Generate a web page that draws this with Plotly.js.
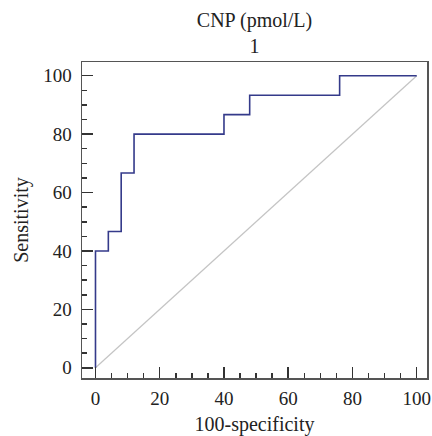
<!DOCTYPE html>
<html>
<head>
<meta charset="utf-8">
<script src="https://cdn.plot.ly/plotly-3.0.1.min.js"></script>
<style>html,body{margin:0;padding:0;background:#fff;}#chart{width:432px;height:436px;}</style>
</head>
<body>
<div id="chart"></div>
<script>
// ROC curve points (100-specificity, sensitivity), step shape
var specX = [0, 0, 4, 8, 12, 40, 48, 76, 100];
var sensY = [0, 40, 46.67, 66.67, 80, 86.67, 93.33, 100, 100];
// reference diagonal
var diagX = [0, 100];
var diagY = [0, 100];
var majorStep = 20;
var minorStep = 5;

var font = "'Liberation Serif', 'Times New Roman', serif";

var traces = [
  {x: diagX, y: diagY, mode: 'lines', line: {color: '#c4c4c4', width: 1.2}, hoverinfo: 'skip'},
  {x: specX, y: sensY, mode: 'lines', line: {color: '#343a8a', width: 1.6, shape: 'hv'}}
];

var axisCommon = {
  showline: true, mirror: true, linecolor: '#555', linewidth: 1.5,
  showgrid: false, zeroline: false,
  tickmode: 'linear', tick0: 0, dtick: majorStep,
  ticks: 'inside', ticklen: 11, tickwidth: 1.5, tickcolor: '#333',
  minor: {tickmode: 'linear', tick0: 0, dtick: minorStep, ticks: 'inside', ticklen: 5, tickwidth: 1.5, tickcolor: '#333', showgrid: false},
  tickfont: {family: font, size: 19, color: '#222'}
};

var layout = {
  width: 432, height: 436,
  margin: {l: 82, r: 5, t: 62, b: 58},
  paper_bgcolor: '#fff', plot_bgcolor: '#fff',
  showlegend: false,
  font: {family: font, color: '#222'},
  title: {text: 'CNP (pmol/L)<br>1', font: {family: font, size: 20, color: '#222'},
          x: 0.5, xref: 'paper', xanchor: 'center', y: 0.938, yref: 'container', yanchor: 'bottom'},
  xaxis: Object.assign({}, axisCommon, {
    range: [-4.2, 103.2],
    ticklabelstandoff: 3,
    title: {text: '100-specificity', font: {family: font, size: 20, color: '#222'}, standoff: 8}
  }),
  yaxis: Object.assign({}, axisCommon, {
    range: [-3.5, 104.7],
    ticklabelstandoff: 5,
    title: {text: 'Sensitivity', font: {family: font, size: 20, color: '#222'}, standoff: 9}
  })
};

Plotly.newPlot('chart', traces, layout, {staticPlot: true, displayModeBar: false});
</script>
</body>
</html>
